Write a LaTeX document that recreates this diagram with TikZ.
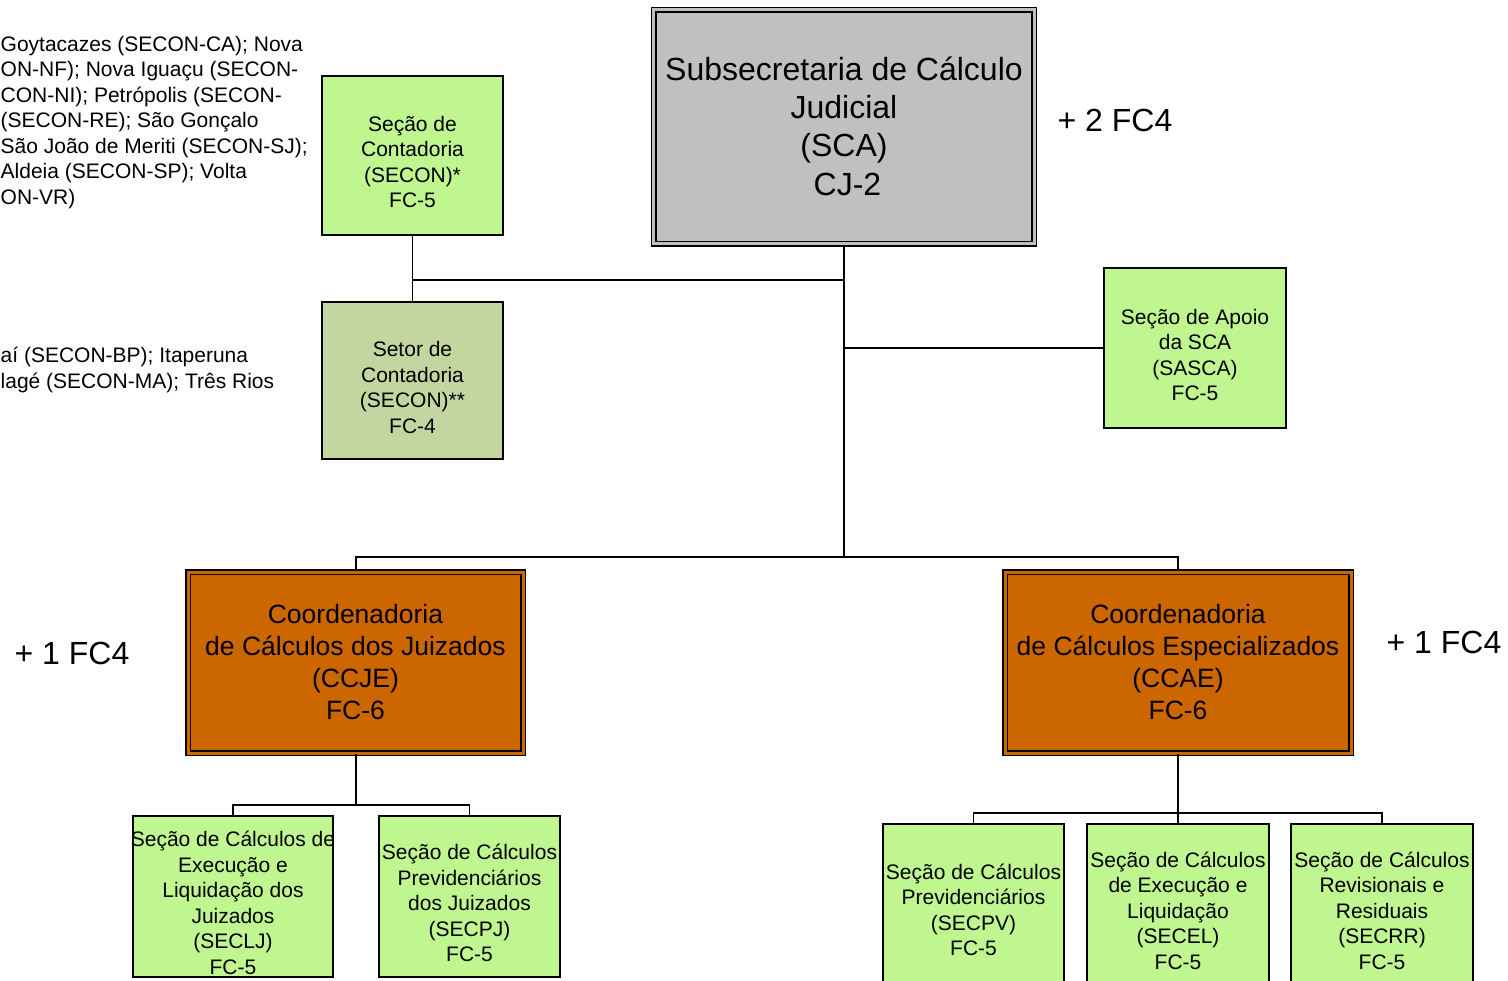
\documentclass[tikz,border=0pt]{standalone}
\usepackage{fontspec}
\setmainfont{Liberation Sans}

\definecolor{secgreen}{RGB}{192,246,144}
\definecolor{setorgreen}{RGB}{196,214,160}
\definecolor{coordorange}{RGB}{204,102,0}
\definecolor{subgray}{RGB}{192,192,192}

\tikzset{
  conn/.style={draw=black, line width=2pt},
  subconn/.style={draw=black, line width=1.6pt},
  unitbox/.style={draw=black, line width=1.5pt, fill=secgreen, inner sep=0pt},
  doublebox/.style={draw=black, line width=1.5pt, double distance=3pt, inner sep=0pt},
  smalltxt/.style={align=center, inner sep=0pt, font=\fontsize{21}{25.5}\selectfont},
  coordtxt/.style={align=center, inner sep=0pt, font=\fontsize{26.5}{32}\selectfont},
  bigtxt/.style={align=center, inner sep=0pt, font=\fontsize{32}{38.3}\selectfont},
  notetxt/.style={align=left, inner sep=0pt, anchor=north west, font=\fontsize{21}{25.5}\selectfont},
}

\begin{document}
\begin{tikzpicture}[x=1pt, y=-1pt]

    \useasboundingbox (0,0) rectangle (1508,981);

    % Subsecretaria (top)
    \node[doublebox, fill=subgray, double=subgray, minimum width=380.5pt, minimum height=234pt] (sca) at (844,127) {};
    \node[bigtxt] (sca-t) at (844,126) {Subsecretaria de Cálculo\\Judicial\\(SCA)\\\hspace*{7pt}CJ-2};
    \node[bigtxt] (sca-fc) at (1115,120) {+ 2 FC4};

    % Contadorias (left column)
    \node[unitbox, minimum width=181pt, minimum height=159pt] (secon) at (412.5,155.5) {};
    \node[smalltxt] (secon-t) at (412.5,162) {Seção de\\Contadoria\\(SECON)*\\FC-5};
    \node[unitbox, fill=setorgreen, minimum width=181pt, minimum height=157pt] (setor) at (412.5,380.5) {};
    \node[smalltxt] (setor-t) at (412.5,387.5) {Setor de\\Contadoria\\(SECON)**\\FC-4};

    % Notes at the left edge
    \node[notetxt] (note-a) at (0.5,36) {Goytacazes (SECON-CA); Nova\\ON-NF); Nova Iguaçu (SECON-\\CON-NI); Petrópolis (SECON-\\(SECON-RE); São Gonçalo\\São João de Meriti (SECON-SJ);\\Aldeia (SECON-SP); Volta\\ON-VR)};
    \node[notetxt] (note-b) at (0.5,347) {aí (SECON-BP); Itaperuna\\lagé (SECON-MA); Três Rios};

    % Apoio
    \node[unitbox, minimum width=182pt, minimum height=160pt] (sasca) at (1195,348) {};
    \node[smalltxt] (sasca-t) at (1195,355) {Seção de Apoio\\da SCA\\(SASCA)\\FC-5};

    % Coordenadorias
    \node[doublebox, fill=coordorange, double=coordorange, minimum width=335pt, minimum height=181pt] (ccje) at (355.5,662.5) {};
    \node[coordtxt] (ccje-t) at (355.5,662.2) {Coordenadoria\\de Cálculos dos Juizados\\(CCJE)\\FC-6};
    \node[bigtxt] (ccje-fc) at (72,653) {+ 1 FC4};
    \node[doublebox, fill=coordorange, double=coordorange, minimum width=346pt, minimum height=181pt] (ccae) at (1178,662.5) {};
    \node[coordtxt] (ccae-t) at (1178,662.2) {Coordenadoria\\de Cálculos Especializados\\(CCAE)\\FC-6};
    \node[bigtxt] (ccae-fc) at (1444,642) {+ 1 FC4};

    % Secoes under CCJE
    \node[unitbox, minimum width=200pt, minimum height=161pt] (seclj) at (233,896.5) {};
    \node[smalltxt] (seclj-t) at (233,903) {Seção de Cálculos de\\Execução e\\Liquidação dos\\Juizados\\(SECLJ)\\FC-5};
    \node[unitbox, minimum width=181pt, minimum height=161pt] (secpj) at (469.5,896.5) {};
    \node[smalltxt] (secpj-t) at (469.5,903.3) {Seção de Cálculos\\Previdenciários\\dos Juizados\\(SECPJ)\\FC-5};

    % Secoes under CCAE
    \node[unitbox, minimum width=181pt, minimum height=172pt] (secpv) at (973.5,910) {};
    \node[smalltxt] (secpv-t) at (973.5,910) {Seção de Cálculos\\Previdenciários\\(SECPV)\\FC-5};
    \node[unitbox, minimum width=182pt, minimum height=172pt] (secel) at (1178,910) {};
    \node[smalltxt] (secel-t) at (1178,910.5) {Seção de Cálculos\\de Execução e\\Liquidação\\(SECEL)\\FC-5};
    \node[unitbox, minimum width=182pt, minimum height=172pt] (secrr) at (1382,910) {};
    \node[smalltxt] (secrr-t) at (1382,910.5) {Seção de Cálculos\\Revisionais e\\Residuais\\(SECRR)\\FC-5};

    % Connectors
    \coordinate (top-bar) at (844,557);
    \coordinate (secon-j) at (844,280);
    \coordinate (sasca-j) at (844,348);
    \draw[conn] (sca.south) -- (top-bar);
    \draw[conn] (ccje.north) |- (top-bar) -| (ccae.north);
    \draw[conn] (secon-j) -- (secon-j -| secon.south);
    \draw[subconn] (secon.south) -- (setor.north);
    \draw[conn] (sasca-j) -- (sasca.west);

    \coordinate (ccje-bar) at (355.5,805);
    \draw[conn] (ccje.south) -- (ccje-bar);
    \draw[subconn] (seclj.north) |- (ccje-bar) -| (secpj.north);

    \coordinate (ccae-bar) at (1178,813);
    \draw[conn] (ccae.south) -- (ccae-bar);
    \draw[subconn] (secpv.north) |- (ccae-bar) -| (secrr.north);
    \draw[subconn] (ccae-bar) -- (secel.north);

\end{tikzpicture}
\end{document}
